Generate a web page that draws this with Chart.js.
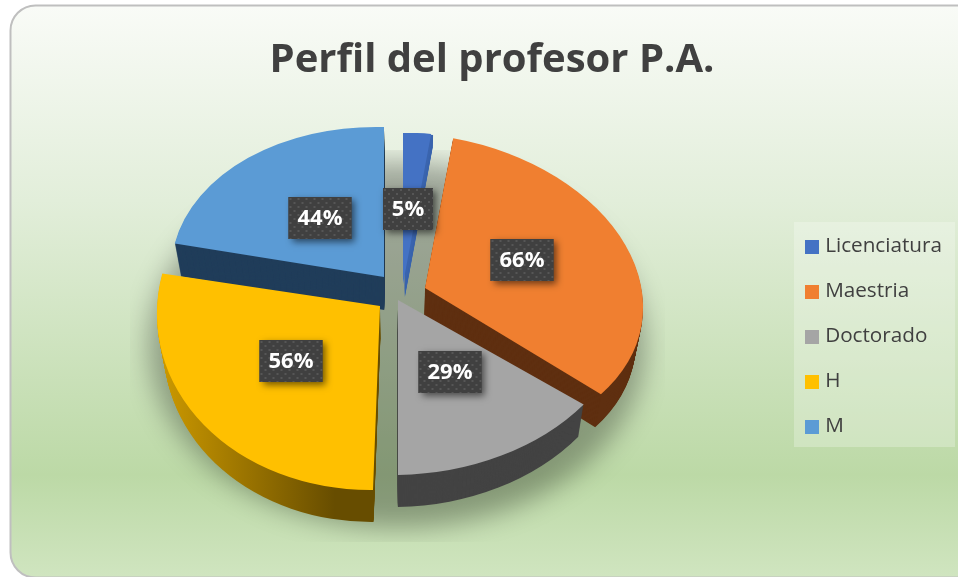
<!DOCTYPE html>
<html lang="es">
<head>
<meta charset="utf-8">
<title>Perfil del profesor P.A.</title>
<style>html,body{margin:0;padding:0;background:#fff;overflow:hidden}canvas{display:block}</style>
<script src="https://cdn.jsdelivr.net/npm/chart.js@4"></script>
</head>
<body>
<canvas id="c" width="958" height="577"></canvas>
<script>
// ---- data ----
const categories = ['Licenciatura', 'Maestria', 'Doctorado', 'H', 'M'];
const values = [5, 66, 29, 56, 44];
const chartTitle = 'Perfil del profesor P.A.';

// ---- styles ----
const faceColors = ['#4472c4', '#f07f30', '#a5a5a5', '#ffc000', '#5b9bd5'];
const wallColors = ['#3a64ae', '#5f2f10', '#434343', null, '#203d5a'];
const paintOrder = [0, 4, 1, 2, 3];
const PIVOT = { x: 394, y: 292 };
// how far each slice is pulled out of the pie, px
const explodeX = [9, 31, 4, -14, -10];
const explodeY = [-8, -4, 8, 14, -15];
// view of the tilted pie per slice: [A, D, C, B] (perspective-foreshortened radius)
const views = [
  [180, -6, 0, 151],
  [218, 15, 6, 154],
  [235, -3.5, 0, 175],
  [223, -2, -7, 184],
  [213, 5.6, 0, 150]
];
const wallDepth = [13, 33, 32, 32, 33];
const wallShift = [2, 0, 0, 0, 0];
const labelCentersX = [408, 522, 450, 291, 320];
const labelCentersY = [209, 260, 372, 361, 218];
const legendShiftX = -10;
const legendShiftY = 49;

function swatch(color) {
  const s = document.createElement('canvas');
  s.width = 14; s.height = 14;
  const g = s.getContext('2d');
  g.fillStyle = color; g.fillRect(0, 0, 14, 14);
  return s;
}
const swatches = faceColors.map(swatch);

function dotPattern(ctx) {
  const p = document.createElement('canvas');
  p.width = 8; p.height = 8;
  const g = p.getContext('2d');
  g.fillStyle = '#404040'; g.fillRect(0, 0, 8, 8);
  g.fillStyle = '#565656';
  g.fillRect(1, 1, 2, 2); g.fillRect(5, 5, 2, 2);
  return ctx.createPattern(p, 'repeat');
}

function applyView(ctx, el, i) {
  const v = views[i], R = el.outerRadius;
  ctx.transform(v[0] / R, v[1] / R, v[2] / R, v[3] / R, PIVOT.x + explodeX[i], PIVOT.y + explodeY[i]);
  ctx.translate(-el.x, -el.y);
}

function wallFill(ctx, i) {
  if (wallColors[i]) return wallColors[i];
  const g = ctx.createLinearGradient(160, 0, 335, 0);
  g.addColorStop(0, '#cc9900');
  g.addColorStop(1, '#674d00');
  return g;
}

const pie3d = {
  id: 'pie3d',
  afterLayout(chart) {
    const l = chart.legend;
    l.left += legendShiftX; l.right += legendShiftX;
    l.top += legendShiftY; l.bottom += legendShiftY;
  },
  beforeDraw(chart) {
    const ctx = chart.ctx;
    const g = ctx.createLinearGradient(0, 6, 0, 578);
    g.addColorStop(0, '#f9fbf7');
    g.addColorStop(0.34, '#e2eeda');
    g.addColorStop(0.82, '#bcd9a6');
    g.addColorStop(1, '#d0e5c0');
    ctx.save();
    ctx.fillStyle = '#fff';
    ctx.fillRect(0, 0, 958, 577);
    ctx.beginPath();
    ctx.roundRect(10.5, 5.5, 980, 572, 25);
    ctx.fillStyle = g;
    ctx.fill();
    ctx.strokeStyle = '#bfbfbf';
    ctx.lineWidth = 2;
    ctx.stroke();
    // legend panel
    ctx.fillStyle = 'rgba(255,255,255,0.25)';
    ctx.fillRect(794, 222, 161, 225);
    ctx.restore();
  },
  beforeDatasetsDraw(chart) {
    const ctx = chart.ctx;
    const arcs = chart.getDatasetMeta(0).data;

    // soft shadow under the pie
    ctx.save();
    ctx.beginPath();
    ctx.rect(130, 150, 535, 392);
    ctx.clip();
    ctx.filter = 'blur(13px)';
    ctx.fillStyle = 'rgba(0,0,0,0.30)';
    ctx.beginPath();
    ctx.ellipse(397, 345, 248, 183, 0, 0, Math.PI * 2);
    ctx.fill();
    ctx.restore();

    paintOrder.forEach(i => {
      const el = arcs[i];
      const depth = wallDepth[i];
      const fill = wallFill(ctx, i);
      // side walls: swept copies of the slice outline
      for (let d = depth; d >= 1; d--) {
        const t = d / 33;
        ctx.save();
        ctx.translate(PIVOT.x + wallShift[i], d);
        ctx.scale(1 - 0.028 * t, 1);
        ctx.translate(-PIVOT.x, 0);
        applyView(ctx, el, i);
        ctx.beginPath();
        ctx.moveTo(el.x, el.y);
        ctx.arc(el.x, el.y, el.outerRadius, el.startAngle, el.endAngle);
        ctx.closePath();
        ctx.restore();
        ctx.fillStyle = fill;
        ctx.fill();
      }
      // top face: the library's own arc
      ctx.save();
      applyView(ctx, el, i);
      el.draw(ctx);
      ctx.restore();
    });

    // value labels
    const pattern = dotPattern(ctx);
    values.forEach((v, i) => {
      const text = v + '%';
      const w = String(v).length > 1 ? 63 : 50, h = 42;
      const x = labelCentersX[i] - w / 2, y = labelCentersY[i] - h / 2;
      ctx.save();
      ctx.shadowColor = 'rgba(0,0,0,0.55)';
      ctx.shadowBlur = 7;
      ctx.shadowOffsetX = 3;
      ctx.shadowOffsetY = 3;
      ctx.fillStyle = '#404040';
      ctx.fillRect(x, y, w, h);
      ctx.restore();
      ctx.save();
      ctx.translate(x, y);
      ctx.fillStyle = pattern;
      ctx.fillRect(0, 0, w, h);
      ctx.restore();
      ctx.save();
      ctx.font = 'bold 22px "Open Sans"';
      ctx.fillStyle = '#ffffff';
      ctx.textAlign = 'center';
      ctx.textBaseline = 'middle';
      ctx.fillText(text, labelCentersX[i], labelCentersY[i] + 1);
      ctx.restore();
    });
    return false;
  }
};

new Chart(document.getElementById('c'), {
  type: 'pie',
  data: {
    labels: categories,
    datasets: [{ data: values, backgroundColor: faceColors, borderWidth: 0 }]
  },
  options: {
    responsive: false,
    animation: false,
    radius: 150,
    layout: { padding: { left: 22, right: -4, top: 0, bottom: 2 } },
    plugins: {
      tooltip: { enabled: false },
      title: {
        display: true,
        text: chartTitle,
        color: '#404040',
        font: { family: '"Open Sans"', size: 40, weight: 'bold' },
        padding: { top: 37, bottom: 1 }
      },
      legend: {
        position: 'right',
        labels: {
          color: '#404040',
          font: { family: '"Open Sans"', size: 20.7 },
          usePointStyle: true,
          pointStyleWidth: 6,
          boxHeight: 14,
          padding: 24.3,
          generateLabels(chart) {
            return Chart.overrides.pie.plugins.legend.labels.generateLabels(chart)
              .map((it, i) => ({ ...it, pointStyle: swatches[i] }));
          }
        }
      }
    }
  },
  plugins: [pie3d]
});
</script>
</body>
</html>
